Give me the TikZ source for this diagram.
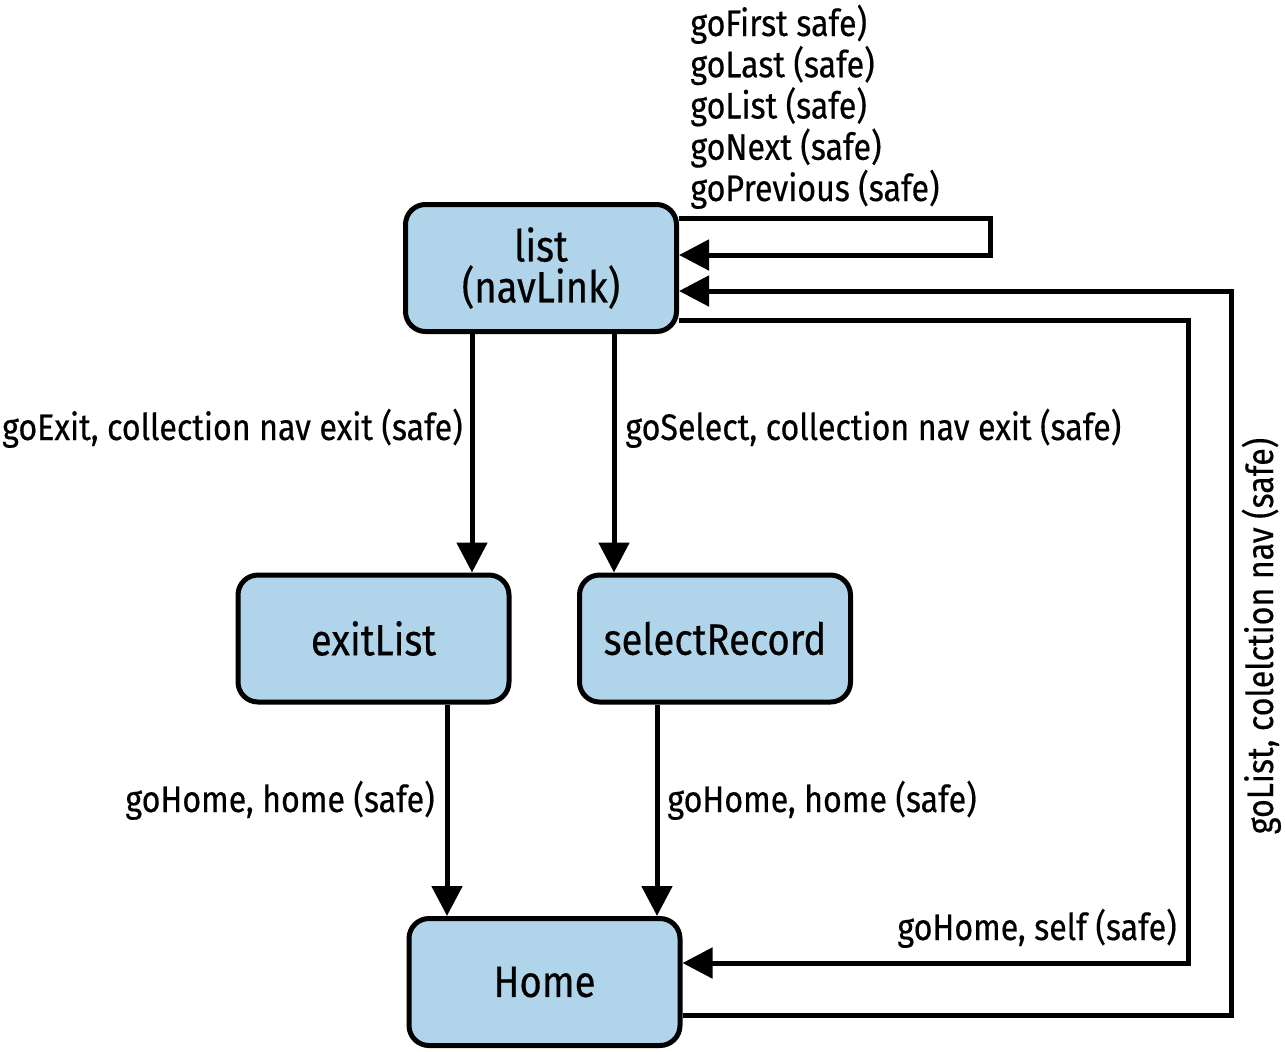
\documentclass[tikz,border=0pt]{standalone}
\usepackage{fontspec}
\setmainfont{Fira Sans}[FakeStretch=0.87,FakeBold=0.4]
\usepackage{xcolor}
\usetikzlibrary{arrows.meta}
\definecolor{statefill}{RGB}{176,212,234}

\begin{document}
\begin{tikzpicture}[x=0.5pt,y=-0.5pt,
    state/.style={draw, line width=2.5pt, rounded corners=10pt, fill=statefill,
      minimum width=135.5pt, minimum height=63.5pt, align=center,
      font=\fontsize{22}{20.5}\selectfont},
    link/.style={line width=2.5pt, -{Triangle[length=15pt,width=15pt]}},
    lbl/.style={inner sep=0pt, font=\fontsize{18.5}{20}\selectfont}]
  \useasboundingbox (0,0) rectangle (1285,1051);

  % states
  \node[state] (list) at (541,268) {list\\(navLink)};
  \node[state] (exitList) at (373.5,638.5) {exitList};
  \node[state] (selectRecord) at (715,638.5) {selectRecord};
  \node[state] (Home) at (544.5,982) {Home};

  % downward transitions
  \draw[link] ([xshift=-34.5pt]list.south) -- ([xshift=49.25pt]exitList.north);
  \draw[link] ([xshift=36.5pt]list.south) -- ([xshift=-50.5pt]selectRecord.north);
  \draw[link] ([xshift=36.75pt]exitList.south) -- ([xshift=-48.75pt]Home.north);
  \draw[link] ([xshift=-29pt]selectRecord.south) -- ([xshift=56.25pt]Home.north);

  % self loop on list
  \draw[link] ([yshift=25pt]list.east) -- (990,218) -- (990,255) -- ([yshift=6.5pt]list.east);

  % Home back to list
  \draw[link] ([yshift=-16.5pt]Home.east) -- (1231,1015) -- (1231,291) -- ([yshift=-11.5pt]list.east);

  % list to Home
  \draw[link] ([yshift=-26pt]list.east) -- (1188,320) -- (1188,963) -- ([yshift=9.5pt]Home.east);

  % labels
  \foreach \txt [count=\i from 0] in {goFirst safe),goLast (safe),goList (safe),goNext (safe),goPrevious (safe)}
    \node[lbl, anchor=base west] (top\i) at (690,36+41.25*\i) {\txt};
  \node[lbl, anchor=base east] (lexit) at (463,440) {goExit, collection nav exit (safe)};
  \node[lbl, anchor=base west] (lselect) at (625,440) {goSelect, collection nav exit (safe)};
  \node[lbl, anchor=base east] (lhomeA) at (435,812) {goHome, home (safe)};
  \node[lbl, anchor=base west] (lhomeB) at (667,812) {goHome, home (safe)};
  \node[lbl, anchor=base east] (lself) at (1177,940) {goHome, self (safe)};
  \node[lbl, anchor=base, rotate=90] (lback) at (1273,636) {goList, colelction nav (safe)};
\end{tikzpicture}
\end{document}
